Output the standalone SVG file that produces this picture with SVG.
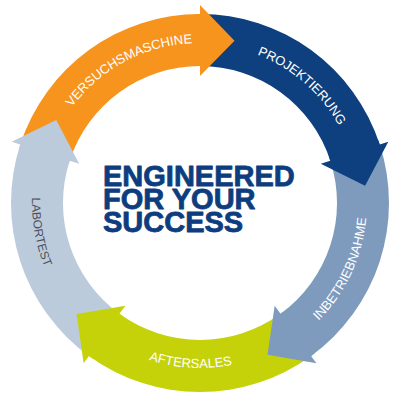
<svg xmlns="http://www.w3.org/2000/svg" width="400" height="400" viewBox="0 0 400 400">
<style>
.lbl{font-family:"Liberation Sans",Arial,sans-serif;font-size:13px;fill:#ffffff}
.dark{fill:#4a4f57;font-size:12px}
.title{font-family:"Liberation Sans",Arial,sans-serif;font-weight:bold;font-size:29px;fill:#0d3d7e;stroke:#0d3d7e;stroke-width:0.8;stroke-linejoin:round}
.orange{fill:#f7941e}.blue{fill:#0e3f7e}.slate{fill:#7e9bbd}.green{fill:#c5d20a}.lav{fill:#bccbdc}
</style>
<defs>
<path id="pVer" d="M 51.65 143.06 A 160 160 0 0 1 233.27 46.50"/>
<path id="pPro" d="M 202.77 44.02 A 159 159 0 0 1 357.04 178.13"/>
<path id="pInb" d="M 270.58 354.35 A 167 167 0 0 0 361.31 159.78"/>
<path id="pAft" d="M 86.63 322.88 A 165 165 0 0 0 298.38 335.47"/>
<path id="pLab" d="M 54.14 119.76 A 168 168 0 0 0 92.69 332.26"/>
</defs>
<rect width="400" height="400" fill="#ffffff"/>
<g id="bodies">
<path id="body-versuchsmaschine" class="orange" d="M 20.25 144.60 A 189 189 0 0 1 200 14 L 200 66 A 137 137 0 0 0 69.70 160.66 Z"/>
<path id="body-projektierung" class="blue" d="M 200 14 A 189 189 0 0 1 379.75 144.60 L 330.30 160.66 A 137 137 0 0 0 200 66 Z"/>
<path id="body-inbetriebnahme" class="slate" d="M 379.75 144.60 A 189 189 0 0 1 311.09 355.90 L 280.53 313.84 A 137 137 0 0 0 330.30 160.66 Z"/>
<path id="body-aftersales" class="green" d="M 311.09 355.90 A 189 189 0 0 1 88.91 355.90 L 119.47 313.84 A 137 137 0 0 0 280.53 313.84 Z"/>
<path id="body-labortest" class="lav" d="M 88.91 355.90 A 189 189 0 0 1 20.25 144.60 L 69.70 160.66 A 137 137 0 0 0 119.47 313.84 Z"/>
</g>
<g id="heads">
<polygon id="head-versuchsmaschine" class="orange" points="195.05,14.06 200,14 200,5 234.51,40.63 200,76 200,66 196.41,66.05"/>
<polygon id="head-projektierung" class="blue" points="378.16,139.91 379.75,144.60 388.31,141.81 365.09,185.65 320.78,163.75 330.30,160.66 329.14,157.27"/>
<polygon id="head-inbetriebnahme" class="slate" points="315.06,352.94 311.09,355.90 316.38,363.19 267.52,354.65 274.65,305.75 280.53,313.84 283.40,311.69"/>
<polygon id="head-aftersales" class="green" points="92.95,358.76 88.91,355.90 83.62,363.19 76.64,314.08 125.35,305.75 119.47,313.84 122.40,315.91"/>
<polygon id="head-labortest" class="lav" points="18.78,149.32 20.25,144.60 11.69,141.81 56.24,120 79.22,163.75 69.70,160.66 68.64,164.09"/>
</g>
<g id="labels">
<text class="lbl"><textPath href="#pVer" startOffset="50%" text-anchor="middle">VERSUCHSMASCHINE</textPath></text>
<text class="lbl"><textPath href="#pPro" startOffset="50%" text-anchor="middle">PROJEKTIERUNG</textPath></text>
<text class="lbl"><textPath href="#pInb" startOffset="50%" text-anchor="middle">INBETRIEBNAHME</textPath></text>
<text class="lbl"><textPath href="#pAft" startOffset="50%" text-anchor="middle">AFTERSALES</textPath></text>
<text class="lbl dark"><textPath href="#pLab" startOffset="50%" text-anchor="middle">LABORTEST</textPath></text>
</g>
<g id="center-title">
<text class="title" x="103" y="185.5">ENGINEERED<tspan x="103" dy="23">FOR YOUR</tspan><tspan x="103" dy="23">SUCCESS</tspan></text>
</g>
</svg>
